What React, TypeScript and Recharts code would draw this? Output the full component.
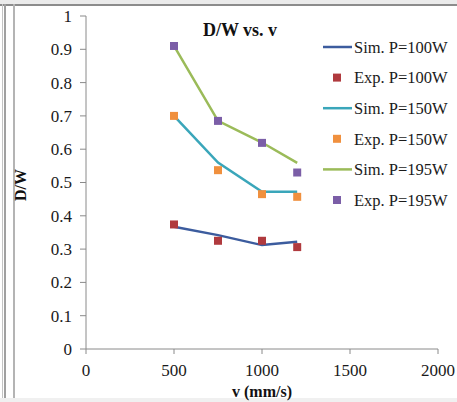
import React from 'react';
import { ComposedChart, Line, Scatter, XAxis, YAxis } from 'recharts';

// scan speed (mm/s)
const speeds = [500, 750, 1000, 1200];

// depth / width ratio per laser power
const simP100 = [0.367, 0.342, 0.312, 0.322];
const expP100 = [0.374, 0.325, 0.325, 0.306];
const simP150 = [0.7, 0.56, 0.472, 0.472];
const expP150 = [0.7, 0.537, 0.465, 0.457];
const simP195 = [0.91, 0.685, 0.62, 0.559];
const expP195 = [0.91, 0.685, 0.619, 0.53];

const xTicks = [0, 500, 1000, 1500, 2000];
const yTicks = [0, 0.1, 0.2, 0.3, 0.4, 0.5, 0.6, 0.7, 0.8, 0.9, 1];

const FONT = 'Liberation Serif, Times New Roman, serif';

const toPoints = (values: number[]) => speeds.map((v, i) => ({ v, dw: values[i] }));

interface Series {
  name: string;
  kind: 'line' | 'marker';
  color: string;
  values: number[];
}

const series: Series[] = [
  { name: 'Sim. P=100W', kind: 'line', color: '#3c5c9e', values: simP100 },
  { name: 'Exp. P=100W', kind: 'marker', color: '#b03a3e', values: expP100 },
  { name: 'Sim. P=150W', kind: 'line', color: '#3aa6ba', values: simP150 },
  { name: 'Exp. P=150W', kind: 'marker', color: '#f0903e', values: expP150 },
  { name: 'Sim. P=195W', kind: 'line', color: '#9bbb59', values: simP195 },
  { name: 'Exp. P=195W', kind: 'marker', color: '#7b5ea7', values: expP195 },
];

// tick text drawn in serif so it matches the rest of the figure
const renderXTick = (props: any) => (
  <text
    x={props.x}
    y={props.y}
    dy="0.71em"
    textAnchor="middle"
    fill="#1a1a1a"
    style={{ fontFamily: FONT, fontSize: 17 }}
  >
    {props.payload.value}
  </text>
);

const renderYTick = (props: any) => (
  <text
    x={props.x}
    y={props.y}
    dy="0.35em"
    textAnchor="end"
    fill="#1a1a1a"
    style={{ fontFamily: FONT, fontSize: 17 }}
  >
    {props.payload.value}
  </text>
);

function Frame() {
  return (
    <>
      <div style={{ position: 'absolute', left: 0, top: 0, width: 457, height: 4, background: '#ebebeb' }} />
      <div style={{ position: 'absolute', left: 0, top: 4, width: 457, height: 2, background: '#8c8c8c' }} />
      <div style={{ position: 'absolute', left: 2, top: 4, width: 1, height: 398, background: '#c4c4c4' }} />
      <div style={{ position: 'absolute', left: 4, top: 4, width: 2, height: 398, background: '#a0a0a0' }} />
      <div style={{ position: 'absolute', left: 13, top: 4, width: 2, height: 398, background: '#b4b4b4' }} />
      <div style={{ position: 'absolute', left: 0, top: 398, width: 457, height: 4, background: '#f0f0f0' }} />
    </>
  );
}

function SideLegend() {
  return (
    <svg width={457} height={402} style={{ position: 'absolute', left: 0, top: 0, pointerEvents: 'none' }}>
      {series.map((s, i) => {
        const y = 47 + i * 30.6;
        return (
          <g key={s.name}>
            {s.kind === 'line' ? (
              <line x1={323} x2={352} y1={y} y2={y} stroke={s.color} strokeWidth={2.5} />
            ) : (
              <rect x={333} y={y - 4} width={8} height={8} fill={s.color} />
            )}
            <text x={354} y={y} dy="0.35em" fill="#1a1a1a" style={{ fontFamily: FONT, fontSize: 16.5 }}>
              {s.name}
            </text>
          </g>
        );
      })}
      <text
        x={240}
        y={30}
        dy="0.35em"
        textAnchor="middle"
        fill="#111"
        style={{ fontFamily: FONT, fontSize: 18, fontWeight: 'bold' }}
      >
        D/W vs. v
      </text>
      <text
        x={262}
        y={391}
        dy="0.35em"
        textAnchor="middle"
        fill="#111"
        style={{ fontFamily: FONT, fontSize: 16, fontWeight: 'bold' }}
      >
        v (mm/s)
      </text>
      <text
        x={20}
        y={185}
        dy="0.35em"
        textAnchor="middle"
        fill="#111"
        transform="rotate(-90 20 185)"
        style={{ fontFamily: FONT, fontSize: 16, fontWeight: 'bold' }}
      >
        D/W
      </text>
    </svg>
  );
}

export default function App() {
  return (
    <div
      style={{
        position: 'absolute',
        left: 0,
        top: 0,
        width: 457,
        height: 402,
        background: '#fff',
        fontFamily: FONT,
      }}
    >
      <Frame />
      <div style={{ position: 'absolute', left: 0, top: 0 }}>
        <ComposedChart width={457} height={402} margin={{ top: 16, right: 19, bottom: 3, left: 0 }}>
          <XAxis
            type="number"
            dataKey="v"
            domain={[0, 2000]}
            ticks={xTicks}
            height={50}
            stroke="#8a8a8a"
            tickSize={5}
            tickMargin={10}
            tick={renderXTick}
            allowDataOverflow
          />
          <YAxis
            type="number"
            dataKey="dw"
            domain={[0, 1]}
            ticks={yTicks}
            width={86}
            stroke="#8a8a8a"
            tickSize={6}
            tickMargin={8}
            tick={renderYTick}
            allowDataOverflow
          />
          {series
            .filter((s) => s.kind === 'line')
            .map((s) => (
              <Line
                key={s.name}
                data={toPoints(s.values)}
                dataKey="dw"
                type="linear"
                stroke={s.color}
                strokeWidth={2.5}
                dot={false}
                activeDot={false}
                isAnimationActive={false}
              />
            ))}
          {series
            .filter((s) => s.kind === 'marker')
            .map((s) => (
              <Scatter
                key={s.name}
                data={toPoints(s.values)}
                dataKey="dw"
                fill={s.color}
                shape="square"
                isAnimationActive={false}
              />
            ))}
        </ComposedChart>
      </div>
      <SideLegend />
    </div>
  );
}
